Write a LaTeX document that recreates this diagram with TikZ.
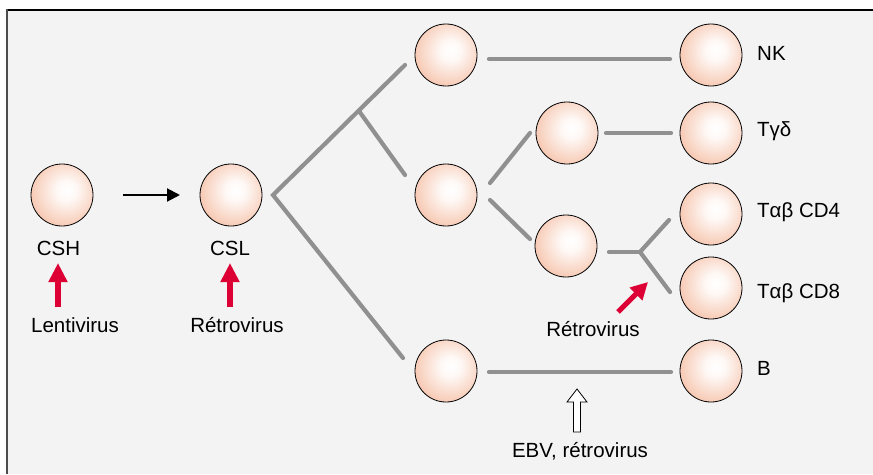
\documentclass[tikz,border=0pt]{standalone}
\usepackage{fontspec}
\setmainfont{Liberation Sans}
\usetikzlibrary{arrows.meta}
\definecolor{bgc}{HTML}{F3F3F3}
\definecolor{peach}{RGB}{242,176,146}
\definecolor{peachmid}{RGB}{249,212,194}
\definecolor{lgray}{HTML}{909090}
\definecolor{vred}{HTML}{DC0035}
\pgfdeclareradialshading{cellshade}{\pgfpoint{4bp}{4bp}}{color(0bp)=(white); color(8bp)=(white!85!peachmid); color(30bp)=(peachmid!60!peach); color(52bp)=(peach); color(100bp)=(peach)}
\begin{document}
\begin{tikzpicture}[x=1pt,y=-1pt,
  cell/.style={circle,draw=black,line width=0.8pt,minimum size=62pt,inner sep=0pt,
    shading=cellshade},
  lbl/.style={font=\fontsize{20.5}{24}\selectfont,inner sep=0pt},
  branch/.style={lgray,line width=4.2pt,line cap=round},
  redarr/.style={vred,line width=5.5pt,-{Triangle[width=18pt,length=19pt]}},
]
\useasboundingbox (0,0) rectangle (873,474);
\fill[bgc] (7,10) rectangle (873,474);
\draw[black,line width=2pt] (6,10) -- (873,10);
\draw[black!70,line width=2.5pt] (7,9) -- (7,474);

% cells
\node[cell] (csh) at (62,195) {};
\node[cell] (csl) at (231,195) {};
\node[cell] (c1) at (446,55) {};
\node[cell] (c2) at (446,195) {};
\node[cell] (c3) at (446,371) {};
\node[cell] (c4) at (567,133) {};
\node[cell] (c5) at (566,246) {};
\node[cell] (nk) at (711,55) {};
\node[cell] (tgd) at (711,133) {};
\node[cell] (cd4) at (711,214) {};
\node[cell] (cd8) at (711,288) {};
\node[cell] (b) at (711,371) {};

% labels
\node[lbl] (lcsh) at (58.5,248) {CSH};
\node[lbl] (lcsl) at (230,248) {CSL};
\node[lbl] (llenti) at (75,325) {Lentivirus};
\node[lbl] (lretro1) at (237,325) {Rétrovirus};
\node[lbl,anchor=west] (lnk) at (757,53) {NK};
\node[lbl,anchor=west] (ltgd) at (757,131) {Tγδ};
\node[lbl,anchor=west] (lcd4) at (757,212) {Tαβ CD4};
\node[lbl,anchor=west] (lcd8) at (757,293) {Tαβ CD8};
\node[lbl,anchor=west] (lb) at (757,368) {B};
\node[lbl] (lretro2) at (593,329) {Rétrovirus};
\node[lbl] (lebv) at (580,451) {EBV, rétrovirus};

% branch points
\coordinate (s0) at (273,195);
\coordinate (s0a) at (405,65);
\coordinate (s0b) at (403,358);
\coordinate (s1) at (359,111);
\coordinate (s1e) at (405,175);
\coordinate (nka) at (489,59);
\coordinate (nkb) at (670,59);
\coordinate (m1a) at (490,183);
\coordinate (m1b) at (530,133);
\coordinate (m2a) at (490,200);
\coordinate (m2b) at (530,239);
\coordinate (ga) at (606,133);
\coordinate (gb) at (671,133);
\coordinate (ya) at (609,252);
\coordinate (yj) at (640,252);
\coordinate (y4) at (669,220);
\coordinate (y8) at (670,292);
\coordinate (ba) at (489,372);
\coordinate (bb) at (671,372);

\draw[branch,line join=miter] (s0a) -- (s0) -- (s0b);
\draw[branch] (s1) -- (s1e);
\draw[branch] (nka) -- (nkb);
\draw[branch] (m1a) -- (m1b);
\draw[branch] (m2a) -- (m2b);
\draw[branch] (ga) -- (gb);
\draw[branch] (ya) -- (yj);
\draw[branch] (yj) -- (y4);
\draw[branch] (yj) -- (y8);
\draw[branch] (ba) -- (bb);

% black arrow
\draw[line width=2pt,-{Triangle[width=13pt,length=13pt]}] (csh.east) ++(30,0) coordinate (ka) -- (180,195) coordinate (kb);

% red arrows
\coordinate (r1a) at (58,307);
\coordinate (r1b) at (58,263);
\coordinate (r2a) at (230,307);
\coordinate (r2b) at (230,263);
\coordinate (r3a) at (618,312);
\coordinate (r3b) at (648,282);
\draw[redarr] (r1a) -- (r1b);
\draw[redarr] (r2a) -- (r2b);
\draw[redarr,line width=5pt,-{Triangle[width=17pt,length=17pt]}] (r3a) -- (r3b);

% open arrow
\draw[fill=white,line width=0.8pt] (573.5,432) -- (573.5,402) -- (567,402) -- (577,389) -- (587,402) -- (580.5,402) -- (580.5,432) -- cycle;
\end{tikzpicture}
\end{document}
